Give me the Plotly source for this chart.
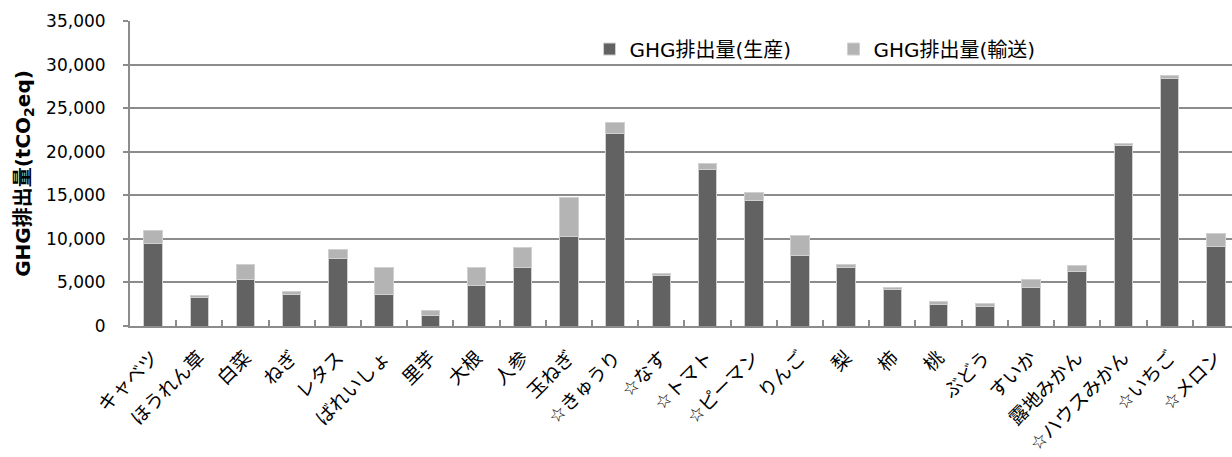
import plotly.graph_objects as go

# 品目別 GHG 排出量 (tCO2eq)
categories = [
    "キャベツ", "ほうれん草", "白菜", "ねぎ", "レタス", "ばれいしょ", "里芋", "大根",
    "人参", "玉ねぎ", "☆きゅうり", "☆なす", "☆トマト", "☆ピーマン", "りんご", "梨",
    "柿", "桃", "ぶどう", "すいか", "露地みかん", "☆ハウスみかん", "☆いちご", "☆メロン",
]
production = [
    9450, 3300, 5330, 3650, 7770, 3650, 1200, 4680,
    6740, 10290, 22090, 5830, 17970, 14420, 8110, 6740,
    4150, 2430, 2270, 4450, 6210, 20710, 28390, 9140,
]
transport = [
    1530, 160, 1720, 340, 990, 3090, 580, 2060,
    2220, 4430, 1300, 190, 680, 870, 2220, 310,
    220, 380, 340, 880, 690, 200, 340, 1490,
]
y_ticks = [0, 5000, 10000, 15000, 20000, 25000, 30000, 35000]
y_tick_text = ["0", "5,000", "10,000", "15,000", "20,000", "25,000", "30,000", "35,000"]

mixed_font = "DejaVu Sans, Noto Sans CJK JP"
num_font = "DejaVu Sans"
grid_color = "#8c8c8c"

fig = go.Figure()
fig.add_trace(go.Bar(
    x=categories, y=production, name="GHG排出量(生産)",
    marker=dict(color="#626262", line=dict(color="#d0d0d0", width=1)),
))
fig.add_trace(go.Bar(
    x=categories, y=transport, name="GHG排出量(輸送)",
    marker=dict(color="#b4b4b4", line=dict(color="#d0d0d0", width=1)),
))

fig.update_layout(
    width=1232, height=457,
    barmode="stack", bargap=0.6,
    paper_bgcolor="white", plot_bgcolor="white",
    margin=dict(l=130, r=0, t=21, b=131),
    font=dict(family=mixed_font, color="black"),
    legend=dict(
        orientation="h", x=0.417, y=0.908, xanchor="left", yanchor="middle",
        font=dict(family=mixed_font, size=20, color="black"),
        bgcolor="rgba(0,0,0,0)", entrywidth=199, entrywidthmode="pixels",
        itemwidth=30, traceorder="normal",
    ),
    xaxis=dict(
        type="category", range=[-0.5, 23.35], automargin=False,
        tickangle=-45, tickfont=dict(family=mixed_font, size=19, color="black"),
        ticklabelstandoff=11,
        ticks="inside", tickson="boundaries", ticklen=6, tickcolor=grid_color, tickwidth=1.5,
        showline=True, linecolor=grid_color, linewidth=2,
        showgrid=False,
    ),
    yaxis=dict(
        range=[0, 35000], tickvals=y_ticks, ticktext=y_tick_text, automargin=False,
        tickfont=dict(family=num_font, size=17, color="black"),
        ticklabelstandoff=14,
        ticks="outside", ticklen=5, tickcolor=grid_color, tickwidth=1.5,
        showline=True, linecolor=grid_color, linewidth=2,
        showgrid=True, gridcolor=grid_color, gridwidth=1.5,
        zeroline=False,
        title=dict(
            text="<b>GHG排出量(tCO<sub>2</sub>eq)</b>",
            font=dict(family=mixed_font, size=20, color="black"),
            standoff=10,
        ),
    ),
)

fig.write_html("out.html")
